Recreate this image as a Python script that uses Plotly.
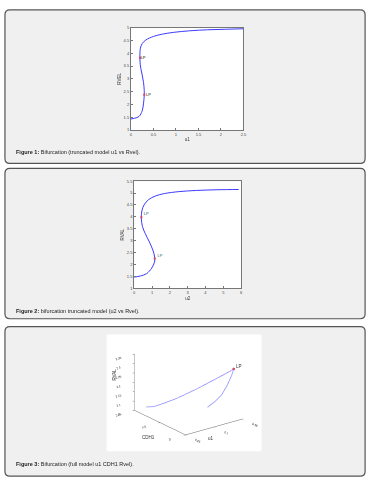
import plotly.graph_objects as go

W, H = 377, 489

# ---- data: Figure 1 (truncated model u1 vs Rvel)
u1_fig1 = [0, 0.08, 0.18, 0.25, 0.28, 0.295, 0.295, 0.28, 0.25, 0.22, 0.2, 0.2, 0.21,
           0.25, 0.33, 0.5, 0.7, 0.95, 1.3, 1.7, 2.1, 2.5]
rvel_fig1 = [1.43, 1.46, 1.53, 1.75, 2.05, 2.35, 2.55, 2.85, 3.15, 3.4, 3.7, 4.0, 4.2,
             4.38, 4.52, 4.66, 4.75, 4.82, 4.88, 4.92, 4.94, 4.96]
lp_fig1_u = [0.295, 0.2]
lp_fig1_r = [2.38, 3.83]
lp_fig1_lbl_u = [0.39, 0.27]
lp_fig1_lbl_r = [2.36, 3.8]

# ---- data: Figure 2 (truncated model u2 vs Rvel)
u2_fig2 = [0, 0.35, 0.7, 0.98, 1.14, 1.15, 1.05, 0.85, 0.62, 0.46, 0.4, 0.43, 0.55,
           0.8, 1.2, 1.7, 2.5, 3.5, 4.7, 5.86]
rval_fig2 = [1.47, 1.52, 1.62, 1.85, 2.1, 2.3, 2.6, 2.95, 3.3, 3.6, 3.95, 4.25, 4.5,
             4.72, 4.88, 4.98, 5.06, 5.11, 5.14, 5.15]
lp_fig2_u = [1.15, 0.4]
lp_fig2_r = [2.25, 3.98]
lp_fig2_lbl_u = [1.45, 0.68]
lp_fig2_lbl_r = [2.34, 4.12]

# ---- data: Figure 3 (full model u1, CDH1, Rvel)
u1_fig3 = [0.0622, 0.0695, 0.0797, 0.0915, 0.1031, 0.1148, 0.1265, 0.1382, 0.1441, 0.1475,
           0.1451, 0.1388, 0.1302, 0.1189, 0.1078]
cdh1_fig3 = [0.903, 0.838, 0.748, 0.644, 0.541, 0.437, 0.333, 0.230, 0.178, 0.147,
             0.161, 0.175, 0.189, 0.203, 0.217]
rval_fig3 = [2.070, 2.074, 2.096, 2.124, 2.157, 2.192, 2.230, 2.267, 2.287, 2.300,
             2.265, 2.217, 2.171, 2.140, 2.120]

ticks1_x = [0, 0.5, 1, 1.5, 2, 2.5]
ticks1_y = [1, 1.5, 2, 2.5, 3, 3.5, 4, 4.5, 5]
ticks2_x = [0, 1, 2, 3, 4, 5, 6]
ticks2_y = [1, 1.5, 2, 2.5, 3, 3.5, 4, 4.5, 5, 5.5]
ticks3_x = [0.05, 0.1, 0.15]
ticks3_y = [0, 0.5, 1]
ticks3_z = [2.05, 2.1, 2.15, 2.2, 2.25, 2.3, 2.35]

captions = [("Figure 1:", " Bifurcation (truncated model u1 vs Rvel)."),
            ("Figure 2:", " bifurcation truncated model (u2 vs Rvel)."),
            ("Figure 3:", " Bifurcation (full model u1 CDH1 Rvel).")]

FONT = "Liberation Sans, Arial, sans-serif"
BLUE = "#3b3bff"
RED = "#e0405a"


def px(x):
    return x / W


def py(y):
    return 1 - y / H


def rrect(x0, y0, x1, y1, r):
    pts = [
        f"M {px(x0 + r)},{py(y0)}", f"L {px(x1 - r)},{py(y0)}",
        f"Q {px(x1)},{py(y0)} {px(x1)},{py(y0 + r)}", f"L {px(x1)},{py(y1 - r)}",
        f"Q {px(x1)},{py(y1)} {px(x1 - r)},{py(y1)}", f"L {px(x0 + r)},{py(y1)}",
        f"Q {px(x0)},{py(y1)} {px(x0)},{py(y1 - r)}", f"L {px(x0)},{py(y0 + r)}",
        f"Q {px(x0)},{py(y0)} {px(x0 + r)},{py(y0)}", "Z"]
    return " ".join(pts)


fig = go.Figure()

# Figure 1 traces
fig.add_trace(go.Scatter(x=u1_fig1, y=rvel_fig1, mode="lines",
                         line=dict(color=BLUE, width=1, shape="spline"),
                         xaxis="x", yaxis="y", showlegend=False))
fig.add_trace(go.Scatter(x=lp_fig1_u, y=lp_fig1_r, mode="markers",
                         marker=dict(color=RED, size=2, symbol="square"),
                         xaxis="x", yaxis="y", showlegend=False))
fig.add_trace(go.Scatter(x=lp_fig1_lbl_u, y=lp_fig1_lbl_r, mode="text", text=["LP", "LP"],
                         textfont=dict(size=4, color="#111", family=FONT),
                         xaxis="x", yaxis="y", showlegend=False))

# Figure 2 traces
fig.add_trace(go.Scatter(x=u2_fig2, y=rval_fig2, mode="lines",
                         line=dict(color=BLUE, width=1, shape="spline"),
                         xaxis="x2", yaxis="y2", showlegend=False))
fig.add_trace(go.Scatter(x=lp_fig2_u, y=lp_fig2_r, mode="markers",
                         marker=dict(color=RED, size=2, symbol="square"),
                         xaxis="x2", yaxis="y2", showlegend=False))
fig.add_trace(go.Scatter(x=lp_fig2_lbl_u, y=lp_fig2_lbl_r, mode="text", text=["LP", "LP"],
                         textfont=dict(size=4, color="#2a6a6a", family=FONT),
                         xaxis="x2", yaxis="y2", showlegend=False))

# Figure 3 trace
fig.add_trace(go.Scatter3d(x=u1_fig3, y=cdh1_fig3, z=rval_fig3, mode="lines",
                           line=dict(color="#8c8cff", width=1.5),
                           scene="scene", showlegend=False))
fig.add_trace(go.Scatter3d(x=[u1_fig3[9]], y=[cdh1_fig3[9]], z=[rval_fig3[9]], mode="markers",
                           marker=dict(color=RED, size=1.5),
                           scene="scene", showlegend=False))

tickf = dict(size=4, color="#444", family=FONT)
tickf3 = dict(size=6, color="#222", family=FONT)
titlef = dict(size=4.5, color="#333", family=FONT)

ax2d = dict(showgrid=False, zeroline=False, showline=True, mirror=True, linecolor="#777",
            linewidth=1, ticks="inside", ticklen=2, tickcolor="#777", tickfont=tickf)

shapes = []
# panels
for (y0, y1) in [(7, 162), (167, 319), (327, 478)]:
    shapes.append(dict(type="path", path=rrect(4, y0, 369, y1, 5), xref="paper", yref="paper",
                       fillcolor="#f0f0f0", line=dict(color="#555", width=1.2), layer="below"))
# plot areas
shapes.append(dict(type="rect", xref="x domain", yref="y domain", x0=0, x1=1, y0=0, y1=1,
                   fillcolor="white", line=dict(width=0), layer="below"))
shapes.append(dict(type="rect", xref="x2 domain", yref="y2 domain", x0=0, x1=1, y0=0, y1=1,
                   fillcolor="white", line=dict(width=0), layer="below"))
shapes.append(dict(type="rect", xref="paper", yref="paper", x0=px(107), x1=px(264),
                   y0=py(453), y1=py(335), fillcolor="white", line=dict(width=0), layer="below"))

annotations = []
for (b, t), yc in zip(captions, [151, 310.7, 465.7]):
    annotations.append(dict(text=f"<b>{b}</b>{t}", x=px(13), y=py(yc), xref="paper",
                            yref="paper", xanchor="left", yanchor="middle", showarrow=False,
                            font=dict(size=5.5, color="#222", family=FONT)))
# axis titles of the 3D plot, placed like the original
annotations.append(dict(text="RVAL", x=px(110.5), y=py(384), xref="paper", yref="paper",
                        textangle=-90, showarrow=False,
                        font=dict(size=4.5, color="#333", family=FONT)))
annotations.append(dict(text="CDH1", x=px(149), y=py(443.5), xref="paper", yref="paper",
                        showarrow=False, font=dict(size=4.5, color="#333", family=FONT)))
annotations.append(dict(text="u1", x=px(213), y=py(445), xref="paper", yref="paper",
                        showarrow=False, font=dict(size=4.5, color="#333", family=FONT)))

ax3 = dict(showbackground=False, showgrid=False, zeroline=False, showline=True,
           linecolor="#666", linewidth=1, ticks="outside", ticklen=2, tickcolor="#666",
           tickfont=tickf3, showspikes=False, title=dict(text=""))

fig.update_layout(
    width=W, height=H, margin=dict(l=0, r=0, t=0, b=0),
    paper_bgcolor="white", plot_bgcolor="rgba(0,0,0,0)",
    font=dict(family=FONT),
    xaxis=dict(ax2d, domain=[px(131.7), px(245.7)], range=[0, 2.5], tickvals=ticks1_x,
               anchor="y", title=dict(text="u1", font=titlef, standoff=2)),
    yaxis=dict(ax2d, domain=[py(128.3), py(25)], range=[1, 5], tickvals=ticks1_y,
               anchor="x", title=dict(text="RVEL", font=titlef, standoff=2)),
    xaxis2=dict(ax2d, domain=[px(135), px(243.3)], range=[0, 6], tickvals=ticks2_x,
                anchor="y2", title=dict(text="u2", font=titlef, standoff=2)),
    yaxis2=dict(ax2d, domain=[py(288.3), py(180)], range=[1, 5.5], tickvals=ticks2_y,
                anchor="x2", title=dict(text="RVAL", font=titlef, standoff=2)),
    scene=dict(
        domain=dict(x=[px(79.5), px(301.5)], y=[py(473.3), py(302.3)]),
        bgcolor="rgba(0,0,0,0)",
        xaxis=dict(ax3, range=[0.05, 0.15], tickvals=ticks3_x),
        yaxis=dict(ax3, range=[0, 1], tickvals=ticks3_y),
        zaxis=dict(ax3, range=[2.05, 2.35], tickvals=ticks3_z),
        aspectmode="manual", aspectratio=dict(x=0.85, y=1, z=0.715),
        camera=dict(projection=dict(type="orthographic"),
                    eye=dict(x=-0.564 * 1.6, y=-0.740 * 1.6, z=0.367 * 1.6),
                    up=dict(x=0, y=0, z=1), center=dict(x=0, y=0, z=0)),
        annotations=[dict(x=u1_fig3[9], y=cdh1_fig3[9], z=rval_fig3[9], text="LP",
                          showarrow=False, xshift=5, yshift=3,
                          font=dict(size=4.5, color="#333", family=FONT))],
    ),
    shapes=shapes,
    annotations=annotations,
)

fig.write_html("out.html", config=dict(displayModeBar=False),
               post_script="document.body.style.margin='0';document.body.style.overflow='hidden';")
